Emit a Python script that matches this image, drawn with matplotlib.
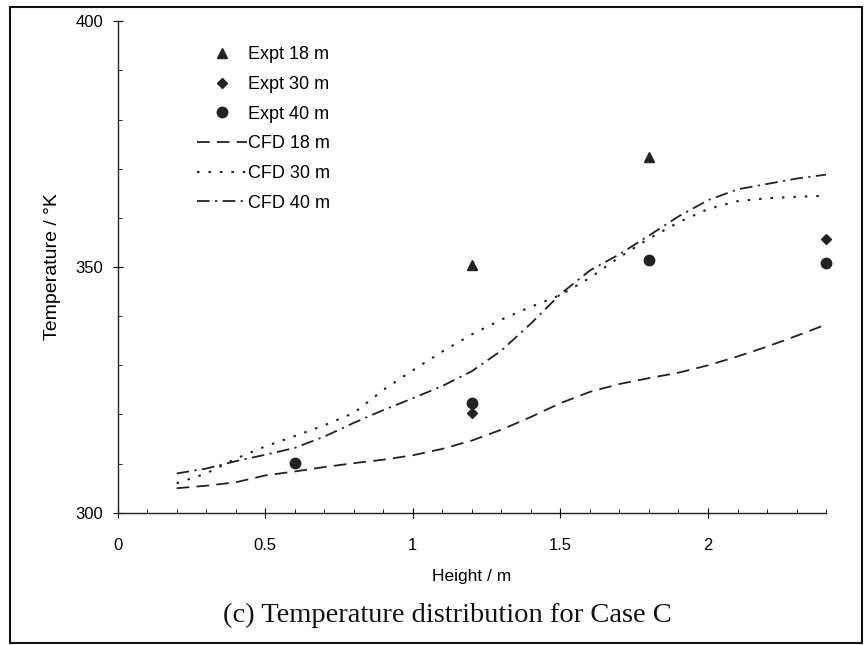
import matplotlib.pyplot as plt
from matplotlib.patches import Rectangle
from matplotlib.ticker import MultipleLocator

plt.rcParams['font.family'] = ['Liberation Sans', 'DejaVu Sans']

# experimental points
x_18 = [1.2, 1.8]
t_18 = [350.4, 372.4]
x_30 = [1.2, 2.4]
t_30 = [320.3, 355.8]
x_40 = [0.6, 1.2, 1.8, 2.4]
t_40 = [310.1, 322.3, 351.4, 350.8]

# CFD curves
h_cfd = [0.2, 0.3, 0.4, 0.5, 0.6, 0.7, 0.8, 0.9, 1.0, 1.1, 1.2, 1.3,
         1.4, 1.5, 1.6, 1.7, 1.8, 1.9, 2.0, 2.1, 2.2, 2.3, 2.4]
cfd_18 = [305.0, 305.5, 306.2, 307.6, 308.4, 309.3, 310.1, 310.8, 311.7, 313.0,
          314.7, 316.9, 319.5, 322.3, 324.6, 326.2, 327.4, 328.5, 330.0, 331.8,
          333.8, 336.0, 338.3]
cfd_30 = [306.0, 308.0, 311.0, 313.5, 315.6, 317.8, 320.3, 325.0, 329.0, 332.8,
          336.3, 339.3, 341.9, 344.3, 347.8, 352.0, 355.8, 359.1, 361.8, 363.4,
          364.0, 364.3, 364.5]
cfd_40 = [308.0, 309.0, 310.5, 311.8, 313.2, 315.5, 318.3, 320.9, 323.3, 325.8,
          328.8, 333.0, 338.5, 344.5, 349.3, 352.6, 356.4, 360.3, 363.6, 365.8,
          366.9, 368.0, 368.8]

fig = plt.figure(figsize=(8.65, 6.45), dpi=100)
ax = fig.add_axes([0.136, 0.205, 0.819, 0.762])

c = '#222222'
ax.plot(x_18, t_18, '^', color=c, ms=7, ls='none', label='Expt 18 m', clip_on=False)
ax.plot(x_30, t_30, 'D', color=c, ms=5.5, ls='none', label='Expt 30 m', clip_on=False)
ax.plot(x_40, t_40, 'o', color=c, ms=7.5, ls='none', label='Expt 40 m', clip_on=False)
ax.plot(h_cfd, cfd_18, color=c, lw=1.3, dashes=(7, 4), label='CFD 18 m')
ax.plot(h_cfd, cfd_30, color=c, lw=1.5, dashes=(1.2, 4.3), label='CFD 30 m')
ax.plot(h_cfd, cfd_40, color=c, lw=1.3, dashes=(7, 3, 1.2, 3), label='CFD 40 m')

ax.set_xlim(0, 2.4)
ax.set_ylim(300, 400)
ax.set_xticks([0, 0.5, 1, 1.5, 2])
ax.set_xticklabels(['0', '0.5', '1', '1.5', '2'])
ax.set_yticks([300, 350, 400])
ax.xaxis.set_minor_locator(MultipleLocator(0.1))
ax.yaxis.set_minor_locator(MultipleLocator(10))
ax.tick_params(which='major', direction='inout', length=7, width=0.8, labelsize=12)
ax.tick_params(which='minor', direction='in', length=3, width=0.6)
ax.tick_params(axis='x', pad=15)
ax.tick_params(axis='y', pad=7)
for s in ['top', 'right']:
    ax.spines[s].set_visible(False)
for s in ['left', 'bottom']:
    ax.spines[s].set_color(c)
    ax.spines[s].set_linewidth(1.0)

ax.set_xlabel('Height / m', fontsize=12.5, labelpad=11)
ax.set_ylabel('Temperature / °K', fontsize=14, labelpad=10)

ax.legend(loc='upper left', bbox_to_anchor=(0.0886, 0.982), frameon=False,
          fontsize=13, handlelength=2.77, handletextpad=0.1,
          labelspacing=0.7, numpoints=1)

fig.text(0.517, 0.036, '(c) Temperature distribution for Case C',
         family=['Liberation Serif', 'DejaVu Serif'], fontsize=20.5,
         ha='center', va='baseline', color='#111111')

fig.patches.append(Rectangle((10 / 865, 2 / 645), 852 / 865, 636 / 645,
                             transform=fig.transFigure, fill=False,
                             edgecolor='#111111', lw=1.5))

fig.savefig('out.png', dpi=100)
